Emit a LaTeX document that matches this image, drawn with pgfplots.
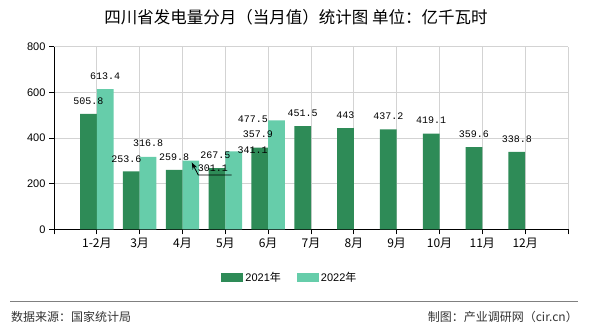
\documentclass[border=0pt]{standalone}
\usepackage{fontspec}
\setmainfont{Liberation Sans}
\setmonofont{Liberation Mono}
\newfontfamily\cjk{Noto Sans CJK SC}
\usepackage{pgfplots}
\pgfplotsset{compat=1.18}
\usepackage{pgfplotstable}
\usetikzlibrary{arrows.meta}
\definecolor{darkg}{HTML}{2E8B57}
\definecolor{lightg}{HTML}{66CDAA}
\definecolor{gridc}{HTML}{D3D3D3}
\definecolor{foot}{HTML}{333333}

\pgfplotstableread{
x y dx dy
0 505.8 0 13
1 253.6 -5 12
2 259.8 0 13
3 267.5 -1.6 13
4 357.9 -2 13
5 451.5 0 13
6 443 0 13
7 437.2 0 13
8 419.1 0 13
9 359.6 0 13
10 338.8 0 13
}\dataA
\pgfplotstableread{
x y dx dy
0 613.4 0 13
1 316.8 0 13.7
2 301.1 22 -7.8
3 341.1 19 1.4
4 477.5 -23.6 1
}\dataB

\begin{document}
\begin{tikzpicture}
\path[use as bounding box] (0pt,0pt) rectangle (590pt,330pt);
\node[font=\cjk\fontsize{16.5}{17}\selectfont, text=black, inner sep=0] at (296pt,312.5pt) {四川省发电量分月（当月值）统计图 单位：亿千瓦时};
\begin{axis}[
  at={(54pt,100.7pt)}, anchor=south west, scale only axis,
  width=514pt, height=182.7pt,
  xmin=-1, xmax=11, ymin=0, ymax=800,
  xtick={-1,0,...,11},
  xticklabels={,1-2月,3月,4月,5月,6月,7月,8月,9月,10月,11月,12月,},
  ytick={0,200,...,800},
  grid=major, major grid style={gridc, line width=0.8pt},
  axis x line*=bottom, axis y line*=left,
  axis line style={black, line width=0.8pt, -},
  tick align=outside, major tick length=5pt,
  tick style={black, line width=0.8pt},
  x tick label style={font=\cjk\fontsize{12}{12}\selectfont},
  y tick label style={font=\fontsize{11}{11}\selectfont},
  /pgf/number format/assume math mode=true,
  ybar=0pt, bar width=16.7pt,
  legend style={at={(0.459,-0.264)}, anchor=center, draw=none, fill=none,
    legend columns=2, font=\fontsize{11}{11}\selectfont,
    /tikz/every even column/.append style={column sep=14pt}},
  legend image code/.code={\fill[#1] (0pt,-4.2pt) rectangle (22pt,4.2pt);},
]
\addplot[fill=darkg, draw=none,
  nodes near coords, point meta=explicit symbolic,
  visualization depends on={\thisrow{dx} \as \dx},
  visualization depends on={\thisrow{dy} \as \dy},
  nodes near coords style={font=\ttfamily\fontsize{10}{10}\selectfont, text=black, anchor=center, xshift=\dx pt, yshift=\dy pt}]
  table[x=x, y=y, meta=y] {\dataA};
\addlegendentry{2021{\cjk 年}}
\addplot[fill=lightg, draw=none,
  nodes near coords, point meta=explicit symbolic,
  visualization depends on={\thisrow{dx} \as \dx},
  visualization depends on={\thisrow{dy} \as \dy},
  nodes near coords style={font=\ttfamily\fontsize{10}{10}\selectfont, text=black, anchor=center, xshift=\dx pt, yshift=\dy pt}]
  table[x=x, y=y, meta=y] {\dataB};
\addlegendentry{2022{\cjk 年}}
\draw[black, line width=0.8pt, -{Stealth[length=7pt,width=5pt]}] (axis cs:3.149,237.7) -- (axis cs:2.369,237.7) -- (axis cs:2.215,293);
\end{axis}
\draw[color=gray, line width=1pt] (10pt,29pt) -- (578pt,29pt);
\node[anchor=west, inner sep=0, font=\cjk\fontsize{12}{12}\selectfont, text=foot] at (11pt,13pt) {数据来源：国家统计局};
\node[anchor=east, inner sep=0, font=\cjk\fontsize{12}{12}\selectfont, text=foot] at (578pt,13pt) {制图：产业调研网（cir.cn）};
\end{tikzpicture}
\end{document}
